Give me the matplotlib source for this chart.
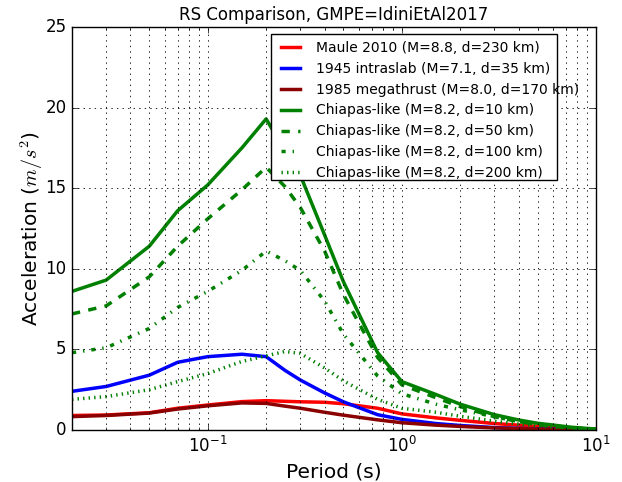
import matplotlib
matplotlib.use('Agg')
from matplotlib import pyplot as plt
from matplotlib.patches import Rectangle

# Data
periods = [0.02, 0.03, 0.05, 0.07, 0.1, 0.15, 0.2, 0.25, 0.3, 0.4, 0.5,
           0.75, 1.0, 1.5, 2.0, 3.0, 4.0, 5.0, 7.5, 10.0]

maule = [0.9, 0.93, 1.07, 1.35, 1.55, 1.76, 1.82, 1.78, 1.75, 1.72, 1.63,
         1.35, 1.0, 0.75, 0.6, 0.4, 0.3, 0.22, 0.1, 0.06]
intraslab = [2.4, 2.7, 3.4, 4.2, 4.55, 4.7, 4.55, 3.7, 3.1, 2.3, 1.75,
             0.95, 0.66, 0.4, 0.28, 0.15, 0.1, 0.07, 0.03, 0.02]
megathrust = [0.83, 0.9, 1.05, 1.3, 1.5, 1.68, 1.65, 1.48, 1.35, 1.1, 0.92,
              0.63, 0.45, 0.3, 0.22, 0.13, 0.09, 0.06, 0.03, 0.02]
chiapas_10 = [8.6, 9.3, 11.4, 13.6, 15.2, 17.5, 19.3, 17.3, 15.8, 12.1, 9.2,
              4.8, 3.0, 2.2, 1.6, 0.95, 0.62, 0.42, 0.17, 0.06]
chiapas_50 = [7.2, 7.7, 9.5, 11.4, 13.1, 14.9, 16.3, 15.1, 13.8, 11.1, 8.4,
              4.5, 2.8, 2.0, 1.45, 0.82, 0.52, 0.34, 0.13, 0.04]
chiapas_100 = [4.8, 5.1, 6.3, 7.6, 8.6, 9.9, 11.1, 10.5, 9.9, 8.0, 5.95,
               3.35, 2.25, 1.6, 1.25, 0.83, 0.52, 0.35, 0.12, 0.03]
chiapas_200 = [1.9, 2.07, 2.5, 3.0, 3.5, 4.25, 4.6, 4.87, 4.75, 3.85, 3.05,
               1.9, 1.35, 1.1, 0.85, 0.55, 0.37, 0.25, 0.1, 0.03]

labels = ['Maule 2010 (M=8.8, d=230 km)',
          '1945 intraslab (M=7.1, d=35 km)',
          '1985 megathrust (M=8.0, d=170 km)',
          'Chiapas-like (M=8.2, d=10 km)',
          'Chiapas-like (M=8.2, d=50 km)',
          'Chiapas-like (M=8.2, d=100 km)',
          'Chiapas-like (M=8.2, d=200 km)']

plt.style.use('classic')
plt.rcParams['figure.facecolor'] = 'white'
plt.rcParams['savefig.facecolor'] = 'white'

fig = plt.figure(figsize=(6.22, 4.82), dpi=100)
ax = fig.add_axes([72/622., 1 - 430/482., 524/622., 403/482.])

lw = 2.5
ax.plot(periods, maule, color='r', lw=lw, label=labels[0])
ax.plot(periods, intraslab, color='b', lw=lw, label=labels[1])
ax.plot(periods, megathrust, color='#8b0000', lw=lw, label=labels[2])
ax.plot(periods, chiapas_10, color='g', ls='-', lw=lw, label=labels[3])
ax.plot(periods, chiapas_50, color='g', ls='--', lw=lw, label=labels[4])
ax.plot(periods, chiapas_100, color='g', ls='-.', lw=lw, label=labels[5])
ax.plot(periods, chiapas_200, color='g', ls=':', lw=lw, label=labels[6])

ax.set_xscale('log')
ax.set_xlim(0.02, 10)
ax.set_ylim(0, 25)
ax.set_yticks([0, 5, 10, 15, 20, 25])
ax.grid(True, which='both', linestyle=':', color='k', lw=0.6)
ax.tick_params(labelsize=12)

ax.set_title('RS Comparison, GMPE=IdiniEtAl2017', fontsize=12)
ax.set_xlabel('Period (s)', fontsize=14.5)
ax.set_ylabel('Acceleration ($m/s^2$)', fontsize=14.5, labelpad=0)

# legend frame in the original is narrower than its text
ax.add_patch(Rectangle((0.38, 0.62), 0.545, 0.363, transform=ax.transAxes,
                       facecolor='white', edgecolor='k', lw=1, zorder=4))
leg = ax.legend(loc='upper left', bbox_to_anchor=(0.38, 0.98), borderaxespad=0,
                fontsize=10, frameon=False)
leg.set_zorder(5)

plt.savefig('out.png', dpi=100)
